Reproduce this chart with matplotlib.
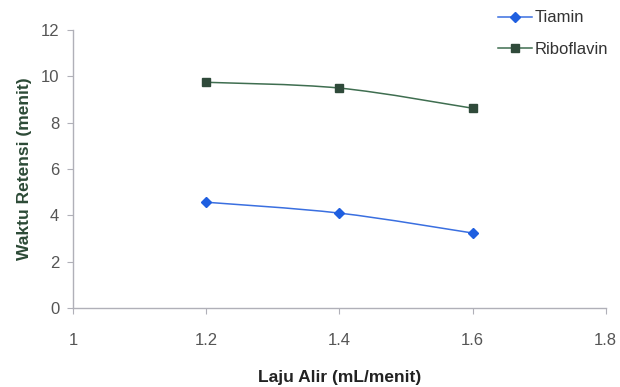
import matplotlib
matplotlib.use('Agg')
import matplotlib.pyplot as plt
import numpy as np
from matplotlib.path import Path
from matplotlib.patches import PathPatch

plt.rcParams['font.family'] = ['Liberation Sans', 'DejaVu Sans']

# Retention time vs flow rate
laju_alir = [1.2, 1.4, 1.6]
tiamin = [4.57, 4.10, 3.24]
riboflavin = [9.75, 9.50, 8.63]

x_ticks = [1, 1.2, 1.4, 1.6, 1.8]
y_ticks = [0, 2, 4, 6, 8, 10, 12]


def smooth_path(xs, ys):
    """Catmull-Rom style bezier through the points (like a smoothed line)."""
    pts = np.column_stack([xs, ys])
    verts = [tuple(pts[0])]
    codes = [Path.MOVETO]
    n = len(pts)
    for i in range(n - 1):
        p0 = pts[i - 1] if i > 0 else pts[i]
        p1 = pts[i]
        p2 = pts[i + 1]
        p3 = pts[i + 2] if i + 2 < n else pts[i + 1]
        c1 = p1 + (p2 - p0) / 6.0
        c2 = p2 - (p3 - p1) / 6.0
        verts += [tuple(c1), tuple(c2), tuple(p2)]
        codes += [Path.CURVE4] * 3
    return Path(verts, codes)


fig = plt.figure(figsize=(6.2, 3.87), dpi=100, facecolor='white')
ax = fig.add_axes([0.118, 0.204, 0.859, 0.718])

series = [
    ('Tiamin', tiamin, '#3a6fe0', '#1f5fe0', 'D', 5),
    ('Riboflavin', riboflavin, '#3f6e50', '#2f4a3a', 's', 6),
]
for name, vals, lc, mc, mk, ms in series:
    ax.add_patch(PathPatch(smooth_path(laju_alir, vals), facecolor='none',
                           edgecolor=lc, lw=1.1, zorder=2))
    ax.plot(laju_alir, vals, ls='none', marker=mk, ms=ms, color=mc,
            zorder=3)
    ax.plot([], [], color=lc, lw=1.1, marker=mk, ms=ms, mfc=mc, mec=mc,
            label=name)

ax.set_xlim(1, 1.8)
ax.set_ylim(0, 12)
ax.set_xticks(x_ticks)
ax.set_xticklabels(['1', '1.2', '1.4', '1.6', '1.8'])
ax.set_yticks(y_ticks)

for side in ['top', 'right']:
    ax.spines[side].set_visible(False)
for side in ['left', 'bottom']:
    ax.spines[side].set_color('#b0b0b8')
    ax.spines[side].set_linewidth(1.0)

ax.tick_params(axis='both', colors='#b0b0b8', labelcolor='#555555',
               labelsize=12, length=4)
ax.tick_params(axis='x', pad=14)
ax.tick_params(axis='y', pad=6)

ax.set_xlabel('Laju Alir (mL/menit)', fontsize=12.5, fontweight='bold',
              color='#222222', labelpad=16)
ax.set_ylabel('Waktu Retensi (menit)', fontsize=12.5, fontweight='bold',
              color='#2c4a36', labelpad=6)

leg = ax.legend(loc='upper left', bbox_to_anchor=(0.77, 1.125), frameon=False,
                fontsize=12, handlelength=2.0, handletextpad=0.2,
                labelspacing=1.0)
for t in leg.get_texts():
    t.set_color('#333333')

fig.savefig('out.png', dpi=100)
